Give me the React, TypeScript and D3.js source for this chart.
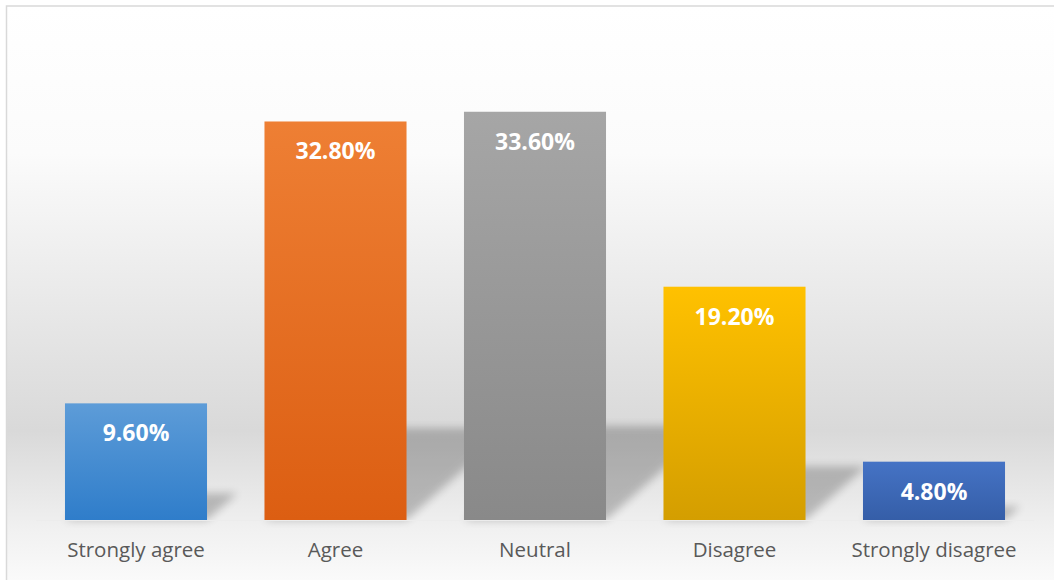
import React, { useEffect, useRef } from 'react';
import * as d3 from 'd3';

// categories and values (percent)
const CATEGORIES = ['Strongly agree', 'Agree', 'Neutral', 'Disagree', 'Strongly disagree'];
const VALUES = [9.6, 32.8, 33.6, 19.2, 4.8];
// gradient colours, top -> bottom
const TOP_COLORS = ['#5d9cd8', '#ee7f34', '#a6a6a6', '#ffc100', '#4573c5'];
const BOTTOM_COLORS = ['#2f7dca', '#dc5e12', '#898989', '#d49e00', '#355ea8'];

export default function App() {
  const svgRef = useRef<SVGSVGElement>(null);

  useEffect(() => {
    if (!svgRef.current) return;
    const width = 1054;
    const height = 580;
    const baseline = 520;

    d3.select(svgRef.current).selectAll('*').remove();
    const svg = d3.select(svgRef.current)
      .attr('width', width)
      .attr('height', height);

    const defs = svg.append('defs');

    // chart background gradient
    const bg = defs.append('linearGradient')
      .attr('id', 'bg-grad')
      .attr('x1', 0).attr('y1', 0).attr('x2', 0).attr('y2', 1);
    bg.append('stop').attr('offset', '0%').attr('stop-color', '#ffffff');
    bg.append('stop').attr('offset', '25%').attr('stop-color', '#fbfbfb');
    bg.append('stop').attr('offset', '72%').attr('stop-color', '#d9d9d9');
    bg.append('stop').attr('offset', '89%').attr('stop-color', '#f1f1f1');
    bg.append('stop').attr('offset', '100%').attr('stop-color', '#fdfdfd');

    // bar gradients
    CATEGORIES.forEach((_c, i) => {
      const g = defs.append('linearGradient')
        .attr('id', `bar-grad-${i}`)
        .attr('x1', 0).attr('y1', 0).attr('x2', 0).attr('y2', 1);
      g.append('stop').attr('offset', '0%').attr('stop-color', TOP_COLORS[i]);
      g.append('stop').attr('offset', '100%').attr('stop-color', BOTTOM_COLORS[i]);
    });

    // soft shadow
    defs.append('filter')
      .attr('id', 'shadow-blur')
      .attr('x', '-50%').attr('y', '-50%').attr('width', '200%').attr('height', '200%')
      .append('feGaussianBlur')
      .attr('stdDeviation', 4);

    svg.append('rect')
      .attr('x', 6.5)
      .attr('y', 6)
      .attr('width', 1060)
      .attr('height', 590)
      .attr('fill', 'url(#bg-grad)')
      .attr('stroke', '#d9d9d9')
      .attr('stroke-width', 1.5);

    const xScale = d3.scaleBand<string>()
      .domain(CATEGORIES)
      .range([36.25, 1033.75])
      .paddingInner(0.288)
      .paddingOuter(0.144);

    const yScale = d3.scaleLinear()
      .domain([0, 40])
      .range([baseline, 34]);

    const data = CATEGORIES.map((c, i) => ({ c, v: VALUES[i], i }));
    const bw = xScale.bandwidth();

    // perspective shadows behind the bars
    svg.append('g')
      .selectAll('polygon')
      .data(data)
      .enter()
      .append('polygon')
      .attr('points', d => {
        const x0 = xScale(d.c)!;
        const h = baseline - yScale(d.v);
        const dx = h * 0.26;
        const dy = h * 0.23;
        return [
          [x0, baseline],
          [x0 + bw, baseline],
          [x0 + bw + dx, baseline - dy],
          [x0 + dx, baseline - dy],
        ].map(p => p.join(',')).join(' ');
      })
      .attr('fill', '#000')
      .attr('opacity', 0.22)
      .attr('filter', 'url(#shadow-blur)');

    // axis line
    svg.append('line')
      .attr('x1', 36).attr('x2', 1034)
      .attr('y1', baseline + 0.5).attr('y2', baseline + 0.5)
      .attr('stroke', '#ececec')
      .attr('stroke-width', 1);

    // bars
    svg.append('g')
      .selectAll('rect')
      .data(data)
      .enter()
      .append('rect')
      .attr('x', d => xScale(d.c)!)
      .attr('y', d => yScale(d.v))
      .attr('width', bw)
      .attr('height', d => baseline - yScale(d.v))
      .attr('fill', d => `url(#bar-grad-${d.i})`);

    // value labels inside bars
    svg.append('g')
      .selectAll('text')
      .data(data)
      .enter()
      .append('text')
      .attr('x', d => xScale(d.c)! + bw / 2)
      .attr('y', d => yScale(d.v) + 38)
      .attr('text-anchor', 'middle')
      .style('font-family', '"Open Sans", sans-serif')
      .style('font-size', '23px')
      .style('font-weight', '700')
      .style('fill', '#ffffff')
      .text(d => `${d.v.toFixed(2)}%`);

    // category labels
    svg.append('g')
      .selectAll('text')
      .data(data)
      .enter()
      .append('text')
      .attr('x', d => xScale(d.c)! + bw / 2)
      .attr('y', 557)
      .attr('text-anchor', 'middle')
      .style('font-family', '"Open Sans", sans-serif')
      .style('font-size', '20.5px')
      .style('fill', '#595959')
      .text(d => d.c);
  }, []);

  return (
    <svg ref={svgRef} style={{ position: 'absolute', left: 0, top: 0, display: 'block' }} />
  );
}
